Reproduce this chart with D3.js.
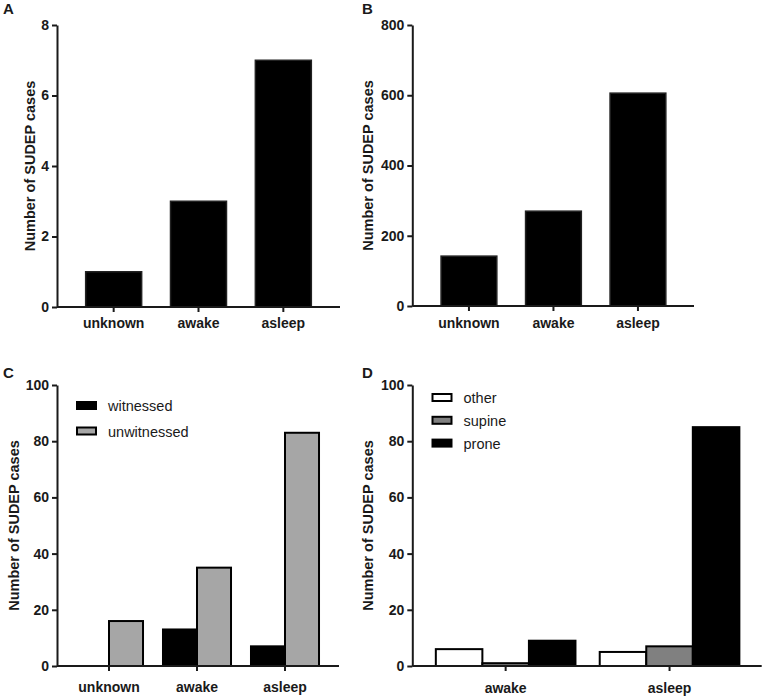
<!DOCTYPE html>
<html>
<head>
<meta charset="utf-8">
<script src="https://cdn.jsdelivr.net/npm/d3@7"></script>
<style>
  html, body { margin: 0; padding: 0; background: #fff; }
  svg { display: block; font-family: "Liberation Sans", Arial, sans-serif; }
</style>
</head>
<body>
<svg id="chart" width="767" height="699"></svg>
<script>
// ---- data ----
const catsABC = ["unknown", "awake", "asleep"];
const catsD = ["awake", "asleep"];

const valuesA = [1, 3, 7];
const valuesB = [142, 270, 606];

const seriesC = ["witnessed", "unwitnessed"];
const witnessedC = [0, 13, 7];
const unwitnessedC = [16, 35, 83];

const seriesD = ["other", "supine", "prone"];
const otherD = [6, 5];
const supineD = [1, 7];
const proneD = [9, 85];

const ticksA = [0, 2, 4, 6, 8];
const ticksB = [0, 200, 400, 600, 800];
const ticksCD = [0, 20, 40, 60, 80, 100];

const yTitle = "Number of SUDEP cases";

// ---- drawing ----
const svg = d3.select("#chart");
const ink = "#1a1a1a";

function panel(o) {
  const g = svg.append("g");
  const y = d3.scaleLinear().domain([0, o.max]).range([o.bottom, o.top]);
  const x = d3.scaleBand().domain(o.cats)
    .range([o.left + o.gapL, o.right - o.gapR])
    .paddingInner(o.pad).paddingOuter(o.pad / 2);

  // bars
  if (o.series) {
    const xs = d3.scaleBand().domain(o.series).range([0, x.bandwidth()]);
    o.series.forEach((s, si) => {
      g.selectAll(null).data(o.cats.map((c, i) => ({ c, v: o.values[si][i] })))
        .enter().filter(d => d.v > 0).append("rect")
        .attr("x", d => x(d.c) + xs(s))
        .attr("width", xs.bandwidth())
        .attr("y", d => y(d.v))
        .attr("height", d => y(0) - y(d.v))
        .attr("fill", o.colors[si])
        .attr("stroke", "#000").attr("stroke-width", 2);
    });
  } else {
    g.selectAll(null).data(o.cats.map((c, i) => ({ c, v: o.values[i] })))
      .enter().append("rect")
      .attr("x", d => x(d.c))
      .attr("width", x.bandwidth())
      .attr("y", d => y(d.v))
      .attr("height", d => y(0) - y(d.v))
      .attr("fill", "#000")
      .attr("stroke", "#222").attr("stroke-width", 1.5);
  }

  // y axis
  const ya = g.append("g").attr("transform", `translate(${o.left},0)`)
    .call(d3.axisLeft(y).tickValues(o.ticks).tickSize(5).tickPadding(3).tickSizeOuter(0));
  ya.attr("font-family", null).attr("font-size", null);
  ya.select(".domain").attr("stroke", ink).attr("stroke-width", 2);
  ya.selectAll(".tick line").attr("stroke", ink).attr("stroke-width", 2);
  ya.selectAll(".tick text").attr("fill", ink)
    .style("font-size", "14px").style("font-weight", "bold");

  // x axis
  const xa = g.append("g").attr("transform", `translate(0,${o.bottom})`)
    .call(d3.axisBottom(x).tickSize(5).tickSizeOuter(0).tickFormat(() => ""));
  xa.select(".domain").attr("d", `M${o.left},0H${o.right}`)
    .attr("stroke", ink).attr("stroke-width", 2);
  xa.selectAll(".tick line").attr("stroke", ink).attr("stroke-width", 2);

  // category labels
  g.selectAll(null).data(o.cats).enter().append("text")
    .attr("x", d => x(d) + x.bandwidth() / 2)
    .attr("y", o.bottom + o.labOff)
    .attr("text-anchor", "middle")
    .attr("fill", ink)
    .style("font-size", "14px").style("font-weight", "bold")
    .text(d => d);

  // y title
  g.append("text")
    .attr("transform", `translate(${o.titleX},${(o.top + o.bottom) / 2}) rotate(-90)`)
    .attr("text-anchor", "middle")
    .attr("dominant-baseline", "central")
    .attr("fill", ink)
    .style("font-size", "14.5px").style("font-weight", "bold")
    .text(yTitle);

  // panel letter
  g.append("text")
    .attr("x", o.letterX).attr("y", o.letterY)
    .attr("fill", ink)
    .style("font-size", "15px").style("font-weight", "bold")
    .text(o.letter);

  // legend
  if (o.series) {
    o.series.forEach((s, si) => {
      const ly = o.legY + si * o.legStep;
      g.append("rect")
        .attr("x", o.legX).attr("y", ly - 4)
        .attr("width", 19).attr("height", 7)
        .attr("fill", o.colors[si])
        .attr("stroke", "#000").attr("stroke-width", 2);
      g.append("text")
        .attr("x", o.legX + 31).attr("y", ly)
        .attr("dominant-baseline", "central")
        .attr("fill", ink)
        .style("font-size", "14.5px")
        .text(s);
    });
  }
}

panel({ letter: "A", letterX: 3, letterY: 14, titleX: 30,
  cats: catsABC, values: valuesA, max: 8, ticks: ticksA,
  left: 57, right: 340, top: 25, bottom: 307, gapL: 14.25, gapR: 14.25, pad: 0.34, labOff: 21 });

panel({ letter: "B", letterX: 362, letterY: 14, titleX: 368,
  cats: catsABC, values: valuesB, max: 800, ticks: ticksB,
  left: 412.3, right: 694, top: 25, bottom: 306, gapL: 14.4, gapR: 13.8, pad: 0.34, labOff: 22 });

panel({ letter: "C", letterX: 3, letterY: 378, titleX: 14,
  cats: catsABC, series: seriesC, values: [witnessedC, unwitnessedC],
  colors: ["#000", "#a6a6a6"], max: 100, ticks: ticksCD,
  left: 57, right: 339, top: 385, bottom: 666, gapL: 8, gapR: 10, pad: 0.227, labOff: 25.5,
  legX: 77, legY: 406, legStep: 25.5 });

panel({ letter: "D", letterX: 362, letterY: 378, titleX: 368,
  cats: catsD, series: seriesD, values: [otherD, supineD, proneD],
  colors: ["#fff", "#808080", "#000"], max: 100, ticks: ticksCD,
  left: 412.3, right: 761.7, top: 385, bottom: 666, gapL: 11.4, gapR: 10.2, pad: 0.148, labOff: 27,
  legX: 432.5, legY: 398, legStep: 22.8 });
</script>
</body>
</html>
